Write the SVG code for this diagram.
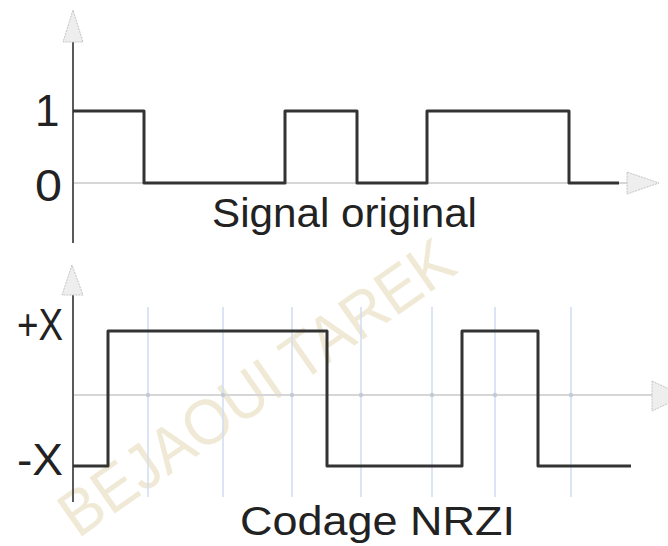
<svg xmlns="http://www.w3.org/2000/svg" width="668" height="546" viewBox="0 0 668 546">
  <style>
    .lbl { font-family: "Liberation Sans", "DejaVu Sans", sans-serif; fill: #222; }
    .axis { stroke: #5a5a5a; stroke-width: 2; fill: none; }
    .haxis { stroke: #d6d6d6; stroke-width: 2; fill: none; }
    .arrow { fill: #eeeeee; stroke: #c4c4c4; stroke-width: 1; stroke-dasharray: 2 1; }
    .sig { stroke: #333; stroke-width: 3; fill: none; stroke-linejoin: round; }
    .grid { stroke: #cfdcf3; stroke-width: 1.5; }
    .dot { fill: #c2cad8; }
    .wm { font-family: "Liberation Sans", "DejaVu Sans", sans-serif; fill: #efe9d5; }
  </style>
  <rect width="668" height="546" fill="#fff"/>

  <text class="wm" transform="translate(78,539) rotate(-35)" font-size="64" textLength="466" lengthAdjust="spacingAndGlyphs">BEJAOUI TAREK</text>

  <g id="top-chart">
    <line class="haxis" x1="73" y1="183" x2="627" y2="183"/>
    <polygon class="arrow" points="627,172 659,183 627,194"/>
    <line class="axis" x1="73" y1="42" x2="73" y2="243"/>
    <polygon class="arrow" points="73,10 63,42 83,42"/>
    <path class="sig" d="M73,111 H144 V183 H285 V111 H357 V183 H427 V111 H569 V183 H619"/>
    <text class="lbl" x="35" y="126" font-size="44">1</text>
    <text class="lbl" x="35" y="201" font-size="44" textLength="27" lengthAdjust="spacingAndGlyphs">0</text>
    <text class="lbl" x="212" y="227" font-size="40" textLength="265" lengthAdjust="spacingAndGlyphs">Signal original</text>
  </g>

  <g id="bottom-chart">
    <g id="grid">
      <line class="grid" x1="148" y1="307" x2="148" y2="497"/>
      <line class="grid" x1="223" y1="307" x2="223" y2="497"/>
      <line class="grid" x1="292" y1="307" x2="292" y2="497"/>
      <line class="grid" x1="361" y1="307" x2="361" y2="497"/>
      <line class="grid" x1="432" y1="307" x2="432" y2="497"/>
      <line class="grid" x1="495" y1="307" x2="495" y2="497"/>
      <line class="grid" x1="571" y1="307" x2="571" y2="497"/>
    </g>
    <line class="haxis" x1="73" y1="395" x2="652" y2="395"/>
    <g id="dots">
      <circle class="dot" cx="148" cy="395" r="2.2"/>
      <circle class="dot" cx="223" cy="395" r="2.2"/>
      <circle class="dot" cx="292" cy="395" r="2.2"/>
      <circle class="dot" cx="361" cy="395" r="2.2"/>
      <circle class="dot" cx="432" cy="395" r="2.2"/>
      <circle class="dot" cx="495" cy="395" r="2.2"/>
      <circle class="dot" cx="571" cy="395" r="2.2"/>
    </g>
    <polygon class="arrow" points="652,381 684,396 652,411"/>
    <line class="axis" x1="73" y1="295" x2="73" y2="502"/>
    <polygon class="arrow" points="72,265 62,295 83,295"/>
    <path class="sig" d="M73,466 H108 V331 H327 V466 H462 V331 H538 V466 H631"/>
    <text class="lbl" x="17" y="340" font-size="44" textLength="46" lengthAdjust="spacingAndGlyphs">+X</text>
    <text class="lbl" x="17" y="475" font-size="44" textLength="46" lengthAdjust="spacingAndGlyphs">-X</text>
    <text class="lbl" x="240" y="535" font-size="40" textLength="275" lengthAdjust="spacingAndGlyphs">Codage NRZI</text>
  </g>
</svg>
